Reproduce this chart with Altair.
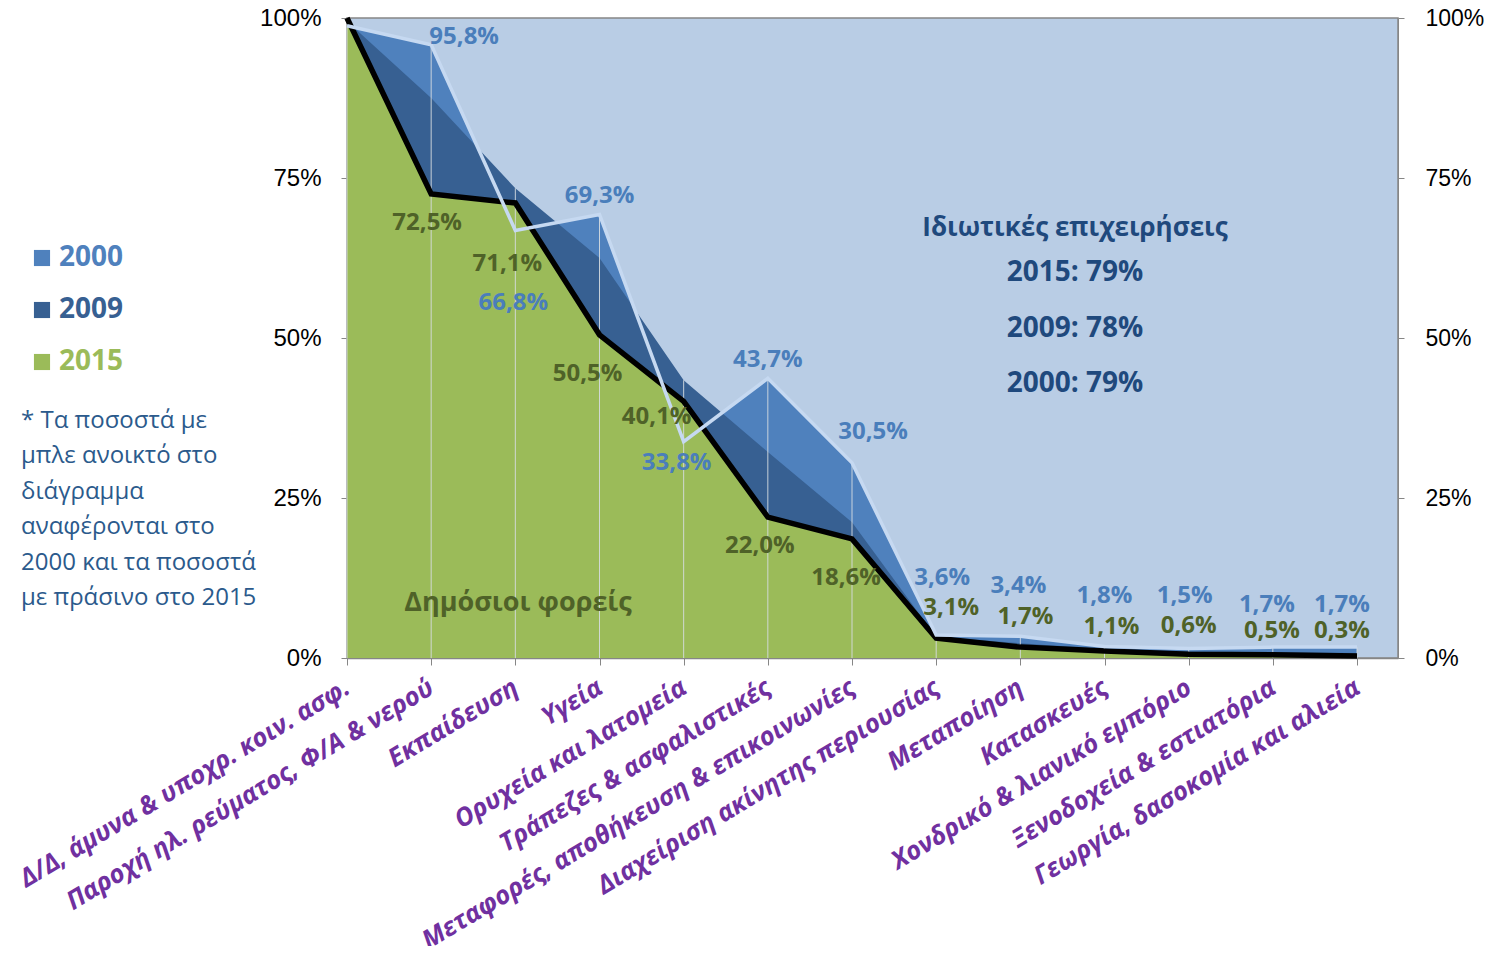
import json
import altair as alt
import pandas as pd

# ---------------- data ----------------
CATEGORIES = [
    "Δ/Δ, άμυνα & υποχρ. κοιν. ασφ.",
    "Παροχή ηλ. ρεύματος, Φ/Α & νερού",
    "Εκπαίδευση",
    "Υγεία",
    "Ορυχεία και λατομεία",
    "Τράπεζες & ασφαλιστικές",
    "Μεταφορές, αποθήκευση & επικοινωνίες",
    "Διαχείριση ακίνητης περιουσίας",
    "Μεταποίηση",
    "Κατασκευές",
    "Χονδρικό & λιανικό εμπόριο",
    "Ξενοδοχεία & εστιατόρια",
    "Γεωργία, δασοκομία και αλιεία",
]
V2000 = [98.8, 95.8, 66.8, 69.3, 33.8, 43.7, 30.5, 3.6, 3.4, 1.8, 1.5, 1.7, 1.7]
V2009 = [99.5, 87.5, 73.4, 62.5, 43.4, 32.2, 21.2, 3.3, 2.3, 1.4, 1.0, 0.9, 0.8]
V2015 = [100.0, 72.5, 71.1, 50.5, 40.1, 22.0, 18.6, 3.1, 1.7, 1.1, 0.6, 0.5, 0.3]

Y_TICKS = [0, 25, 50, 75, 100]
LEGEND_YEARS = ["2000", "2009", "2015"]
PRIVATE_TITLE = "Ιδιωτικές επιχειρήσεις"
PRIVATE_TOTALS = ["2015: 79%", "2009: 78%", "2000: 79%"]
PUBLIC_TITLE = "Δημόσιοι φορείς"
NOTE_LINES = [
    "* Τα ποσοστά  με",
    "μπλε ανοικτό στο",
    "διάγραμμα",
    "αναφέρονται στο",
    "2000 και τα ποσοστά",
    "με πράσινο στο 2015",
]

# label placement (pixel offsets from the data point), first category unlabeled
OFF_2015 = [None, (-4, 29), (-8, 61), (-12, 39), (-27, 16), (-8, 29), (-6, 39),
            (15, -30), (5, -30), (7, -24), (0, -28), (-1, -24), (-15, -25)]
OFF_2000 = [None, (33, -8), (-2, 73), (0, -18), (-7, 21), (0, -18), (21, -31),
            (6, -57), (-2, -50), (0, -50), (-4, -52), (-6, -42), (-15, -42)]

# ---------------- style ----------------
W, H = 1051, 640
X_MAX = 12.487
PX_X = W / X_MAX
PX_Y = H / 100.0

C2000 = "#4f81bd"
C2009 = "#376092"
C2015 = "#9bbb59"
BG = "#b9cde5"
LINE2000 = "#c6d9f1"
GREEN_TXT = "#4f6228"
BLUE_TXT = "#4a7ebb"
NAVY = "#1f497d"
PURPLE = "#7030a0"
GREY = "#868686"
FONT = "Open Sans"

df = pd.DataFrame({
    "idx": list(range(len(CATEGORIES))),
    "v2000": V2000,
    "v2009": V2009,
    "v2015": V2015,
})
df["top"] = df[["v2000", "v2009", "v2015"]].max(axis=1)
df["zero"] = 0.0


def fmt(v):
    return f"{v:.1f}".replace(".", ",") + "%"


rows = []
for series, vals, offs in (("2015", V2015, OFF_2015), ("2000", V2000, OFF_2000)):
    for i, (v, o) in enumerate(zip(vals, offs)):
        if o is None:
            continue
        rows.append({
            "series": series,
            "lx": i + o[0] / PX_X,
            "ly": v - o[1] / PX_Y,
            "label": fmt(v),
        })
labels = pd.DataFrame(rows)

xscale = alt.Scale(domain=[0, X_MAX], nice=False, zero=False)
yscale = alt.Scale(domain=[0, 100], nice=False)

label_expr = json.dumps(CATEGORIES, ensure_ascii=False) + "[datum.value]"
x_axis = alt.Axis(
    values=list(range(len(CATEGORIES))), labelExpr=label_expr, title=None,
    grid=False, ticks=True, tickSize=7, tickColor=GREY, domainColor=GREY,
    domainWidth=1.5, labelAngle=-31, labelAlign="right", labelBaseline="middle",
    labelFont=FONT, labelFontSize=25.5, labelFontWeight="bold",
    labelFontStyle="italic", labelColor=PURPLE, labelPadding=20,
    labelOverlap=False, labelLimit=1000, labelFlush=False, labelBound=False,
)
y_axis = alt.Axis(
    values=Y_TICKS, labelExpr="datum.value + '%'", title=None, grid=False,
    tickSize=6, tickColor=GREY, domainColor=GREY, labelFont="Liberation Sans",
    labelFontSize=24, labelColor="black", labelPadding=20, labelFlush=False,
)

base = alt.Chart(df)
X = alt.X("idx:Q", scale=xscale, axis=x_axis)

area2000 = base.mark_area(color=C2000, opacity=1).encode(
    x=X, y=alt.Y("v2000:Q", scale=yscale, axis=y_axis))
area2009 = base.mark_area(color=C2009, opacity=1).encode(
    x=alt.X("idx:Q", scale=xscale), y=alt.Y("v2009:Q", scale=yscale))
area2015 = base.mark_area(color=C2015, opacity=1).encode(
    x=alt.X("idx:Q", scale=xscale), y=alt.Y("v2015:Q", scale=yscale))
drops = base.mark_rule(color="#d6dbe0", strokeWidth=1, opacity=0.9).encode(
    x=alt.X("idx:Q", scale=xscale), y=alt.Y("zero:Q", scale=yscale), y2="top:Q")
line2015 = base.mark_line(color="black", strokeWidth=5.5).encode(
    x=alt.X("idx:Q", scale=xscale), y=alt.Y("v2015:Q", scale=yscale))
line2000 = base.mark_line(color=LINE2000, strokeWidth=3.5).encode(
    x=alt.X("idx:Q", scale=xscale), y=alt.Y("v2000:Q", scale=yscale))

lab = alt.Chart(labels).mark_text(
    font=FONT, fontSize=24, fontWeight="bold", align="center", baseline="middle"
).encode(
    x=alt.X("lx:Q", scale=xscale),
    y=alt.Y("ly:Q", scale=yscale),
    text="label:N",
    color=alt.Color("series:N", scale=alt.Scale(domain=["2015", "2000"],
                                                range=[GREEN_TXT, BLUE_TXT]),
                    legend=None),
)

layers = [area2000, area2009, area2015, drops, line2015, line2000, lab]

# annotations
def txt(text, x, y, color, size=25, weight="bold", align="center", **kw):
    return alt.Chart(df.head(1)).mark_text(
        font=FONT, fontSize=size, fontWeight=weight, color=color,
        align=align, baseline="middle", **kw
    ).encode(x=alt.value(x), y=alt.value(y), text=alt.value(text))

layers.append(txt(PRIVATE_TITLE, 728, 210, NAVY, size=26))
for t, yy in zip(PRIVATE_TOTALS, [255, 311, 366]):
    layers.append(txt(t, 728, yy, NAVY, size=28))
layers.append(txt(PUBLIC_TITLE, 171, 585, GREEN_TXT, size=27))

# legend
for yr, col, yy in zip(LEGEND_YEARS, [C2000, C2009, C2015], [240, 292, 344]):
    layers.append(alt.Chart(df.head(1)).mark_square(
        size=260, color=col, opacity=1, filled=True
    ).encode(x=alt.value(-305), y=alt.value(yy)))
    layers.append(txt(yr, -288, yy, col, size=28, align="left"))

# note
layers.append(alt.Chart(df.head(1)).mark_text(
    font=FONT, fontSize=24, color="#2b5a8c", align="left", baseline="top",
    lineHeight=35.4,
).encode(x=alt.value(-326), y=alt.value(391), text=alt.value(NOTE_LINES)))

main = alt.layer(*layers)

right_axis = base.mark_point(opacity=0).encode(
    x=alt.X("idx:Q", scale=xscale),
    y=alt.Y("v2015:Q", scale=yscale, axis=alt.Axis(
        orient="right", values=Y_TICKS, labelExpr="datum.value + '%'",
        title=None, grid=False, tickSize=6, tickColor=GREY, domainColor=GREY,
        labelFont="Liberation Sans", labelFontSize=23, labelColor="black",
        labelPadding=21, labelFlush=False)),
)

chart = alt.layer(main, right_axis).resolve_scale(y="independent").properties(
    width=W, height=H,
    padding={"left": 339, "top": 10, "right": 88, "bottom": 288},
    autosize=alt.AutoSizeParams(type="none"),
    background="white",
).configure_view(fill=BG, stroke=GREY, strokeWidth=1.5)

chart.save("out.html", embed_options={"renderer": "svg", "actions": False})
